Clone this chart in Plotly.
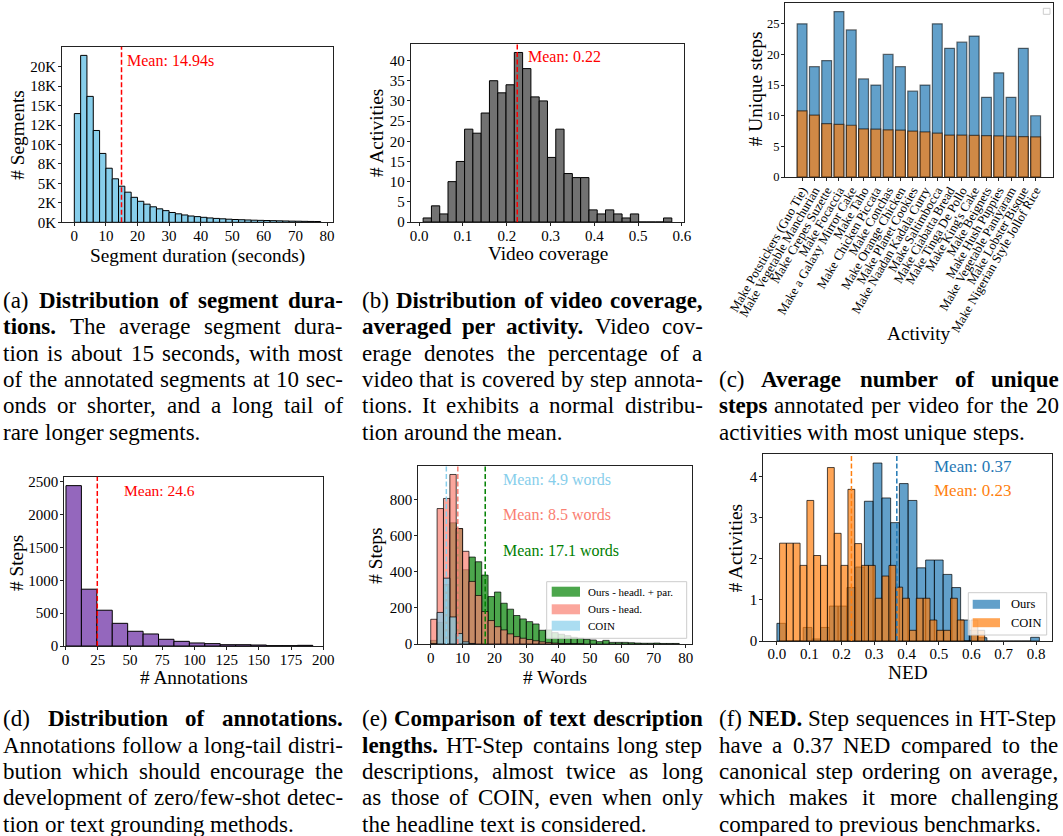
import numpy as np
import plotly.graph_objects as go

W, H = 1063, 836
FONT = "Liberation Serif"

# ---------------- data ----------------
# (a) segment durations (2 s bins from 0 s)
seg_bin_start = 0.0
seg_bin_width = 2.0
seg_counts = [13970, 21450, 16180, 11800, 8850, 6950, 5590, 4640, 3870, 3210,
              2700, 2330, 1990, 1730, 1500, 1260, 1090, 940, 810, 730,
              640, 560, 500, 450, 400, 360, 330, 300, 270, 250,
              230, 210, 190, 170, 150, 140, 125, 110, 100]
seg_mean = 14.94
seg_xticks = [0, 10, 20, 30, 40, 50, 60, 70, 80]
seg_yticks = [0, 2500, 5000, 7500, 10000, 12500, 15000, 17500, 20000]
seg_yticktext = ["0K", "2K", "5K", "8K", "10K", "12K", "15K", "18K", "20K"]

# (b) video coverage per activity
cov_bin_start = 0.009
cov_bin_width = 0.01893
cov_counts = [1, 4, 2, 10, 15, 23, 22, 27, 35, 32, 34, 42, 38, 31, 30,
              16, 23, 12, 11, 11, 3, 2, 3, 2, 1, 2, 0, 0, 0, 1]
cov_mean = 0.224
cov_xticks = [0.0, 0.1, 0.2, 0.3, 0.4, 0.5, 0.6]
cov_yticks = [0, 5, 10, 15, 20, 25, 30, 35, 40]

# (c) unique steps for top-20 activities
activities = ["Make Potstickers (Guo Tie)", "Make Vegetable Manchurian", "Make Crepes Suzette",
              "Make Focaccia", "Make a Galaxy Mirror Cake", "Make Taho", "Make Chicken Piccata",
              "Make Conchas", "Make Orange Chicken", "Make Planet Cookies",
              "Make Naadan Kadala Curry", "Make Saltimbocca", "Make Ciabatta Bread",
              "Make Tinga De Pollo", "Make King's Cake", "Make Beignets", "Make Hush Puppies",
              "Make Vegetable Paniyaram", "Make Lobster Bisque", "Make Nigerian Style Jollof Rice"]
unique_total = [25, 18, 19, 27, 24, 16, 15, 20, 18, 14, 15, 25, 21, 22, 23, 13, 17, 13, 21, 10]
unique_per_video = [10.8, 10.1, 8.7, 8.6, 8.45, 7.85, 7.8, 7.7, 7.65, 7.5,
                    7.35, 7.15, 6.85, 6.85, 6.8, 6.75, 6.7, 6.65, 6.6, 6.55]
uniq_yticks = [0, 5, 10, 15, 20, 25]

# (d) annotations per step
ann_bin_start = 0.3
ann_bin_width = 11.97
ann_counts = [2439, 864, 544, 345, 224, 183, 102, 71, 46, 36, 20, 20, 15, 5, 5, 10]
ann_mean = 24.6
ann_xticks = [0, 25, 50, 75, 100, 125, 150, 175, 200]
ann_yticks = [0, 500, 1000, 1500, 2000, 2500]

# (e) description lengths in words (2-word bins from 0)
words_bin_start = 0.0
words_bin_width = 2.0
words_headl_par = [20, 120, 330, 672, 640, 412, 482, 456, 382, 263, 288, 226, 193, 158, 139,
                   124, 111, 76, 78, 63, 54, 46, 37, 32, 26, 22, 13, 20, 9, 9,
                   9, 7, 5, 4, 4, 5, 3, 3, 3]
words_head = [137, 751, 807, 940, 640, 514, 347, 269, 180, 130, 96, 78, 56, 41, 32,
              25, 18, 12, 8, 5, 3, 2, 2, 1]
words_coin = [0, 175, 365, 150, 58, 12, 3]
words_means = [4.9, 8.5, 17.1]  # COIN, Ours-head, Ours-headl+par
words_xticks = [0, 10, 20, 30, 40, 50, 60, 70, 80]
words_yticks = [0, 200, 400, 600, 800]

# (f) NED (density histograms)
ned_ours_start = 0.0
ned_ours_width = 0.027
ned_ours = [0.43, 0.0, 0.0, 0.33, 0.05, 0.33, 0.85, 0.85, 1.3, 1.8,
            3.4, 4.33, 3.48, 2.88, 3.83, 3.42, 1.78, 1.97, 1.97, 1.62,
            1.3, 0.51, 0.26, 0.08, 0, 0, 0, 0, 0, 0.09]
ned_coin_start = 0.0082
ned_coin_width = 0.0211
ned_coin = [2.38, 2.38, 2.38, 1.84, 3.42, 2.08, 1.84, 4.22, 2.62, 1.84,
            3.69, 2.37, 1.84, 1.84, 1.04, 1.58, 1.84, 1.31, 1.04, 0.26,
            1.04, 1.04, 0.51, 0.26, 0.26, 1.04, 0.51, 0.0, 0.51, 0.26]
ned_means = [0.37, 0.23]  # Ours, COIN
ned_xticks = [0.0, 0.1, 0.2, 0.3, 0.4, 0.5, 0.6, 0.7, 0.8]
ned_yticks = [0, 1, 2, 3, 4]

# captions (words starting with * are bold; each list is one paragraph)
cap_a = ["(a) *Distribution *of *segment *dura-",
         "*tions. The average segment dura-",
         "tion is about 15 seconds, with most",
         "of the annotated segments at 10 sec-",
         "onds or shorter, and a long tail of",
         "rare longer segments."]
cap_b = ["(b) *Distribution *of *video *coverage,",
         "*averaged *per *activity. Video cov-",
         "erage denotes the percentage of a",
         "video that is covered by step annota-",
         "tions. It exhibits a normal distribu-",
         "tion around the mean."]
cap_c = ["(c) *Average *number *of *unique",
         "*steps annotated per video for the 20",
         "activities with most unique steps."]
cap_d = ["(d) *Distribution *of *annotations.",
         "Annotations follow a long-tail distri-",
         "bution which should encourage the",
         "development of zero/few-shot detec-",
         "tion or text grounding methods."]
cap_e = ["(e) *Comparison *of *text *description",
         "*lengths. HT-Step contains long step",
         "descriptions, almost twice as long",
         "as those of COIN, even when only",
         "the headline text is considered."]
cap_f = ["(f) *NED. Step sequences in HT-Step",
         "have a 0.37 NED compared to the",
         "canonical step ordering on average,",
         "which makes it more challenging",
         "compared to previous benchmarks."]


def centers(start, width, n):
    return start + width * (np.arange(n) + 0.5)


def X(p):
    return p / W


def Y(p):
    return 1 - p / H


# ---------------- figure ----------------
fig = go.Figure()

# (a)
fig.add_trace(go.Bar(x=centers(seg_bin_start, seg_bin_width, len(seg_counts)), y=seg_counts,
                     width=seg_bin_width, marker=dict(color="#87ceeb", line=dict(color="black", width=1)),
                     xaxis="x", yaxis="y"))
# (b)
fig.add_trace(go.Bar(x=centers(cov_bin_start, cov_bin_width, len(cov_counts)), y=cov_counts,
                     width=cov_bin_width, marker=dict(color="#727272", line=dict(color="black", width=1)),
                     xaxis="x2", yaxis="y2"))
# (c)
idx = np.arange(len(activities))
fig.add_trace(go.Bar(x=idx, y=unique_total, width=0.8,
                     marker=dict(color="rgba(31,119,180,0.7)", line=dict(color="rgba(0,0,0,0.55)", width=1.2)),
                     xaxis="x3", yaxis="y3"))
fig.add_trace(go.Bar(x=idx, y=unique_per_video, width=0.8,
                     marker=dict(color="rgba(255,127,14,0.7)", line=dict(color="rgba(0,0,0,0.55)", width=1.2)),
                     xaxis="x3", yaxis="y3"))
# (d)
fig.add_trace(go.Bar(x=centers(ann_bin_start, ann_bin_width, len(ann_counts)), y=ann_counts,
                     width=ann_bin_width, marker=dict(color="#9467bd", line=dict(color="black", width=1)),
                     xaxis="x4", yaxis="y4"))
# (e)
E_GREEN = "rgba(0,128,0,0.7)"
E_SALMON = "rgba(250,128,114,0.7)"
E_SKY = "rgba(135,206,235,0.7)"
for vals, col in [(words_headl_par, E_GREEN), (words_head, E_SALMON), (words_coin, E_SKY)]:
    fig.add_trace(go.Bar(x=centers(words_bin_start, words_bin_width, len(vals)), y=vals,
                         width=words_bin_width,
                         marker=dict(color=col, line=dict(color="rgba(0,0,0,0.7)", width=1)),
                         xaxis="x5", yaxis="y5"))
# (f)
F_BLUE = "rgba(31,119,180,0.7)"
F_ORANGE = "rgba(255,127,14,0.7)"
fig.add_trace(go.Bar(x=centers(ned_ours_start, ned_ours_width, len(ned_ours)), y=ned_ours,
                     width=ned_ours_width, marker=dict(color=F_BLUE, line=dict(color="rgba(0,0,0,0.7)", width=1)),
                     xaxis="x6", yaxis="y6"))
fig.add_trace(go.Bar(x=centers(ned_coin_start, ned_coin_width, len(ned_coin)), y=ned_coin,
                     width=ned_coin_width, marker=dict(color=F_ORANGE, line=dict(color="rgba(0,0,0,0.7)", width=1)),
                     xaxis="x6", yaxis="y6"))

# panel boxes in pixels: (left, top, right, bottom)
boxes = {
    "a": (62, 46.7, 333, 222.3),
    "b": (410.7, 44, 684.3, 222),
    "c": (785, 3.3, 1052.7, 177),
    "d": (64.3, 476.7, 323.3, 646),
    "e": (418.3, 466, 691.7, 644),
    "f": (763.3, 454, 1051.7, 641),
}


def dom(key):
    l, t, r, b = boxes[key]
    return [X(l), X(r)], [Y(b), Y(t)]


def axstyle(standoff, **kw):
    d = dict(showline=True, linecolor="#222", linewidth=1, mirror=True, ticks="outside",
             ticklen=3, tickwidth=1, tickcolor="#222", showgrid=False, zeroline=False,
             automargin=False, fixedrange=True, ticklabelstandoff=standoff,
             tickfont=dict(family=FONT, size=15, color="black"))
    d.update(kw)
    return d


layout = dict(width=W, height=H, margin=dict(l=0, r=0, t=0, b=0), paper_bgcolor="white",
              plot_bgcolor="white", showlegend=False, barmode="overlay",
              font=dict(family=FONT, color="black"))

specs = [
    ("a", "", -3, dict(range=[-3.9, 81.9], tickvals=seg_xticks),
     dict(range=[0, 22565], tickvals=seg_yticks, ticktext=seg_yticktext)),
    ("b", "2", -3, dict(range=[-0.0194, 0.6054], tickvals=cov_xticks, tickformat=".1f"),
     dict(range=[0, 44.1], tickvals=cov_yticks)),
    ("c", "3", -3, dict(range=[-1.39, 20.39], tickvals=list(idx), ticktext=activities, tickangle=-60,
                        tickfont=dict(family=FONT, size=12.8, color="black")),
     dict(range=[0, 28.35], tickvals=uniq_yticks, tickfont=dict(family=FONT, size=12.5, color="black"))),
    ("d", "4", -3, dict(range=[-1, 200], tickvals=ann_xticks),
     dict(range=[0, 2575], tickvals=ann_yticks)),
    ("e", "5", -3, dict(range=[-3.9, 81.9], tickvals=words_xticks),
     dict(range=[0, 987], tickvals=words_yticks)),
    ("f", "6", -4, dict(range=[-0.042, 0.848], tickvals=ned_xticks, tickformat=".1f"),
     dict(range=[0, 4.55], tickvals=ned_yticks)),
]
for key, n, xso, xk, yk in specs:
    xd, yd = dom(key)
    layout["xaxis" + n] = axstyle(xso, domain=xd, anchor="y" + n, **xk)
    layout["yaxis" + n] = axstyle(-1, domain=yd, anchor="x" + n, **yk)

fig.update_layout(**layout)

# mean lines
mean_lines = [
    ("x", "y", seg_mean, "red"),
    ("x2", "y2", cov_mean, "red"),
    ("x4", "y4", ann_mean, "red"),
    ("x5", "y5", words_means[0], "#87ceeb"),
    ("x5", "y5", words_means[1], "#fa8072"),
    ("x5", "y5", words_means[2], "green"),
    ("x6", "y6", ned_means[0], "#1f77b4"),
    ("x6", "y6", ned_means[1], "#ff7f0e"),
]
for xr, yr, v, col in mean_lines:
    fig.add_shape(type="line", xref=xr, yref=yr + " domain", x0=v, x1=v, y0=0, y1=1,
                  line=dict(color=col, width=1.5, dash="5px,2.5px"))


def text(xp, yp, s, size, color="black", xanchor="left", angle=0, pad=1):
    fig.add_annotation(x=X(xp), y=Y(yp), xref="paper", yref="paper", text=s, showarrow=False,
                       xanchor=xanchor, yanchor="middle", textangle=angle,
                       borderpad=pad, borderwidth=0,
                       font=dict(family=FONT, size=size, color=color))


# mean labels
text(126, 60.7, f"Mean: {seg_mean:.2f}s", 16, "red")
text(526.7, 56.7, f"Mean: {cov_mean:.2f}", 16, "red")
text(123.3, 490.7, f"Mean: {ann_mean}", 15.5, "red")
text(501.7, 479.3, f"Mean: {words_means[0]} words", 16, "#87ceeb")
text(501.7, 514, f"Mean: {words_means[1]} words", 16, "#fa8072")
text(501.7, 550, f"Mean: {words_means[2]} words", 16, "green")
text(932.7, 466.7, f"Mean: {ned_means[0]:.2f}", 17, "#1f77b4")
text(932.7, 490, f"Mean: {ned_means[1]:.2f}", 17, "#ff7f0e")

# axis titles
TS = 19.3
text(197.8, 255.5, "Segment duration (seconds)", TS, xanchor="center", pad=0)
text(16.7, 135, "# Segments", TS, xanchor="center", angle=-90, pad=0)
text(548.3, 253.5, "Video coverage", TS, xanchor="center", pad=0)
text(376.7, 133.3, "# Activities", TS, xanchor="center", angle=-90, pad=0)
text(919.2, 333.3, "Activity", TS, xanchor="center", pad=0)
text(755, 89.2, "# Unique steps", TS, xanchor="center", angle=-90, pad=0)
text(194.2, 677.5, "# Annotations", TS, xanchor="center", pad=0)
text(16.7, 563.3, "# Steps", TS, xanchor="center", angle=-90, pad=0)
text(555.3, 677.5, "# Words", TS, xanchor="center", pad=0)
text(376, 555.8, "# Steps", TS, xanchor="center", angle=-90, pad=0)
text(908.3, 672, "NED", TS, xanchor="center", pad=0)
text(735, 548.3, "# Activities", TS, xanchor="center", angle=-90, pad=0)


# manual legends
def legend_box(l, t, r, b):
    fig.add_shape(type="rect", xref="paper", yref="paper", x0=X(l), x1=X(r), y0=Y(b), y1=Y(t),
                  fillcolor="rgba(255,255,255,0.8)", line=dict(color="#cccccc", width=1))


def legend_item(px0, px1, yc, hgt, col, label, tx, size):
    fig.add_shape(type="rect", xref="paper", yref="paper", x0=X(px0), x1=X(px1),
                  y0=Y(yc + hgt / 2), y1=Y(yc - hgt / 2), fillcolor=col, line=dict(width=0))
    text(tx, yc, label, size)


legend_box(546.7, 581.7, 686.7, 638.3)
legend_item(551.7, 580, 591.7, 10, E_GREEN, "Ours - headl. + par.", 587.3, 11)
legend_item(551.7, 580, 609.3, 10, E_SALMON, "Ours - head.", 587.3, 11)
legend_item(551.7, 580, 625.7, 10, E_SKY, "COIN", 587.3, 11)

legend_box(968.3, 592.7, 1046.7, 635)
legend_item(972.7, 1000, 604.3, 9, F_BLUE, "Ours", 1010, 12.5)
legend_item(972.7, 1000, 622.7, 9, F_ORANGE, "COIN", 1010, 12.5)

legend_box(1043.3, 8.3, 1050, 14.3)

# ---------------- justified captions ----------------
_R = {' ': 250, '(': 333, ')': 333, ',': 250, '-': 333, '.': 250, '/': 278, ':': 278, "'": 333,
      'A': 722, 'B': 667, 'C': 667, 'D': 722, 'E': 611, 'F': 556, 'G': 722, 'H': 722, 'I': 333,
      'J': 389, 'K': 722, 'L': 611, 'M': 889, 'N': 722, 'O': 722, 'P': 556, 'Q': 722, 'R': 667,
      'S': 556, 'T': 611, 'U': 722, 'V': 722, 'W': 944, 'X': 722, 'Y': 722, 'Z': 611,
      'a': 444, 'b': 500, 'c': 444, 'd': 500, 'e': 444, 'f': 333, 'g': 500, 'h': 500, 'i': 278,
      'j': 278, 'k': 500, 'l': 278, 'm': 778, 'n': 500, 'o': 500, 'p': 500, 'q': 500, 'r': 333,
      's': 389, 't': 278, 'u': 500, 'v': 500, 'w': 722, 'x': 500, 'y': 500, 'z': 444}
_B = {' ': 250, '(': 333, ')': 333, ',': 250, '-': 333, '.': 250, '/': 278, ':': 333, "'": 333,
      'A': 722, 'B': 667, 'C': 722, 'D': 722, 'E': 667, 'F': 611, 'G': 778, 'H': 778, 'I': 389,
      'J': 500, 'K': 778, 'L': 667, 'M': 944, 'N': 722, 'O': 778, 'P': 611, 'Q': 778, 'R': 722,
      'S': 556, 'T': 667, 'U': 722, 'V': 722, 'W': 1000, 'X': 722, 'Y': 722, 'Z': 667,
      'a': 500, 'b': 556, 'c': 444, 'd': 556, 'e': 444, 'f': 333, 'g': 500, 'h': 556, 'i': 278,
      'j': 333, 'k': 556, 'l': 278, 'm': 833, 'n': 556, 'o': 500, 'p': 556, 'q': 556, 'r': 444,
      's': 389, 't': 333, 'u': 556, 'v': 500, 'w': 722, 'x': 500, 'y': 500, 'z': 444}


def word_width(w, bold, size):
    tbl = _B if bold else _R
    return sum(tbl.get(ch, 500) for ch in w) / 1000.0 * size


CS = 23
col_a = (3.3, 343)
col_b = (362, 702.5)
col_c = (718.5, 1058.5)
ys_top = [300, 326.6, 353.2, 379.5, 405.8, 432]
ys_bot = [718.5, 745, 771.4, 797.7, 824]


def caption(col, ys, lines):
    left, right = col
    for li, (yy, ln) in enumerate(zip(ys, lines)):
        words = ln.split(" ")
        parts = [(w[1:], True) if w.startswith("*") else (w, False) for w in words]
        widths = [word_width(w, b, CS) for w, b in parts]
        last = li == len(lines) - 1
        if last or len(parts) < 2:
            gap = 0.25 * CS
        else:
            gap = (right - left - sum(widths)) / (len(parts) - 1)
        xcur = left
        for (w, b), wd in zip(parts, widths):
            s = f"<b>{w}</b>" if b else w
            text(xcur, yy, s, CS, pad=0)
            xcur += wd + gap


caption(col_a, ys_top, cap_a)
caption(col_b, ys_top, cap_b)
caption(col_c, ys_top[3:], cap_c)
caption(col_a, ys_bot, cap_d)
caption(col_b, ys_bot, cap_e)
caption(col_c, ys_bot, cap_f)

fig.write_html("out.html", config={"displayModeBar": False},
               post_script="document.body.style.margin='0px';")
